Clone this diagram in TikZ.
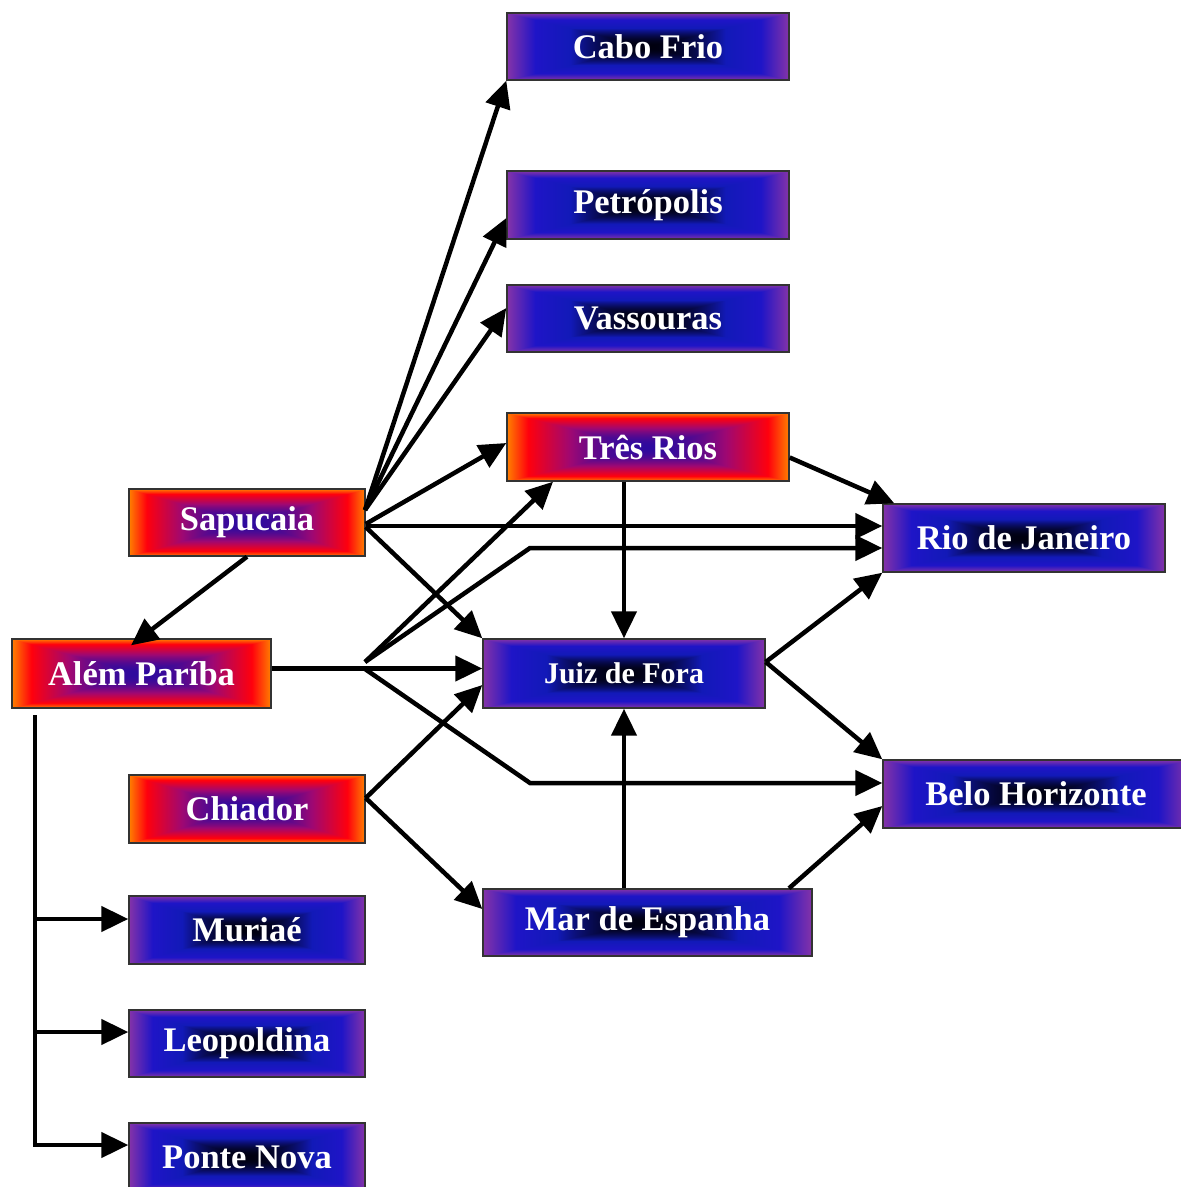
\documentclass[tikz,border=0pt]{standalone}
\usepackage{fontspec}
\setmainfont{Liberation Serif}
\usetikzlibrary{arrows.meta,calc}

\pgfdeclarefunctionalshading{bluerect}{\pgfpointorigin}{\pgfpoint{100bp}{100bp}}{}{
50 sub abs exch 50 sub abs 2 copy lt {exch} if pop 25 div dup 1 gt {pop 1} if
dup 0.55 lt
{ 0.55 div dup mul dup dup 0.07 mul 0.0 add 3 1 roll 0.10 mul 0.0 add exch 0.66 mul 0.06 add }
{ dup 0.8 lt
  { 0.55 sub 0.25 div dup dup 0.05 mul 0.07 add 3 1 roll -0.02 mul 0.10 add exch 0.06 mul 0.72 add }
  { 0.8 sub 0.2 div dup dup 0.40 mul 0.12 add 3 1 roll 0.12 mul 0.08 add exch -0.12 mul 0.78 add }
  ifelse }
ifelse
}

\pgfdeclarefunctionalshading{redrect}{\pgfpointorigin}{\pgfpoint{100bp}{100bp}}{}{
50 sub abs exch 50 sub abs 2 copy lt {exch} if pop 25 div dup 1 gt {pop 1} if
dup 0.55 lt
{ 0.55 div dup mul dup dup 0.44 mul 0.18 add 3 1 roll -0.01 mul 0.04 add exch -0.17 mul 0.62 add }
{ dup 0.85 lt
  { 0.55 sub 0.3 div dup dup 0.38 mul 0.62 add 3 1 roll -0.03 mul 0.03 add exch -0.40 mul 0.45 add }
  { 0.85 sub 0.15 div dup dup 0 mul 1.0 add 3 1 roll 0.5 mul 0.0 add exch -0.05 mul 0.05 add }
  ifelse }
ifelse
}

\tikzset{
  cbox/.style={draw=black!80, line width=1.4pt, shade, inner sep=0pt,
    minimum height=67pt, text=white,
    font=\bfseries\fontsize{34.5}{40}\selectfont},
  bluebox/.style={cbox, shading=bluerect},
  redbox/.style={cbox, shading=redrect},
  conn/.style={line width=4.5pt, draw=black},
  arr/.style={conn, -{Triangle[length=27pt,width=25pt]}},
}

\begin{document}
\begin{tikzpicture}[x=1pt,y=-1pt]
\useasboundingbox (0,0) rectangle (1181,1187);

% nodes
\node[bluebox, minimum width=282pt] (cabo) at (648,46.5) {Cabo Frio};
\node[bluebox, minimum width=282pt, minimum height=68pt] (petro) at (648,205) {Petrópolis};
\node[bluebox, minimum width=282pt] (vass) at (648,318.5) {Vassouras};
\node[redbox, minimum width=282pt, minimum height=68pt] (tres) at (648,447) {Três Rios};
\node[redbox, minimum width=236pt] (sap) at (247,522.5) {Sapucaia};
\node[bluebox, minimum width=282pt, minimum height=68pt] (rio) at (1024,538) {Rio de Janeiro};
\node[redbox, minimum width=259pt, minimum height=69pt] (alem) at (141.5,673.5) {Além Paríba};
\node[bluebox, minimum width=282pt, minimum height=69pt,
      font=\bfseries\fontsize{30}{36}\selectfont] (juiz) at (624,673.5) {Juiz de Fora};
\node[redbox, minimum width=236pt, minimum height=68pt] (chi) at (247,809) {Chiador};
\node[bluebox, minimum width=306pt, minimum height=68pt] (belo) at (1036,794) {Belo Horizonte};
\node[bluebox, minimum width=329pt] (mar) at (647.5,922.5) {Mar de Espanha};
\node[bluebox, minimum width=236pt, minimum height=68pt] (mur) at (247,930) {Muriaé};
\node[bluebox, minimum width=236pt] (leo) at (247,1043.5) {Leopoldina};
\node[bluebox, minimum width=236pt, minimum height=68pt] (ponte) at (247,1157) {Ponte Nova};

% junction coordinates
\coordinate (sapfan) at (365,510);
\coordinate (ja) at (365,662);
\coordinate (jb) at (365,669);
\coordinate (bendA) at (530,548);
\coordinate (bendB) at (530,783);
\coordinate (treetop) at (35,715);
\coordinate (bmur) at ([yshift=11pt]mur.west);
\coordinate (bleo) at ([yshift=11.5pt]leo.west);
\coordinate (bpon) at ([yshift=12pt]ponte.west);

% Sapucaia connectors
\draw[arr] (sapfan) -- (cabo.south west);
\draw[arr] (sapfan) -- ([yshift=-13pt]petro.west);
\draw[arr] (sapfan) -- ([yshift=10.5pt]vass.west);
\draw[arr] ([yshift=-1.5pt]sap.east) -- ([yshift=4pt]tres.west);
\draw[arr] ([yshift=-3.5pt]sap.east) -- ([yshift=12pt]rio.west);
\draw[arr] ([yshift=-4.5pt]sap.east) -- (juiz.north west);
\draw[arr] (sap.south) -- ([xshift=-10.5pt,yshift=-7pt]alem.north);

% Alem Pariba connectors
\draw[arr] ([yshift=5pt]alem.east) -- ([yshift=5pt]juiz.west);
\draw[arr] (ja) -- ([xshift=-95pt]tres.south);
\draw[arr] (ja) -- (bendA) -- ([yshift=-10pt]rio.west);
\draw[arr] (jb) -- (bendB) -- ([yshift=11pt]belo.west);

% Tres Rios
\draw[arr] ([xshift=-24pt]tres.south) -- (juiz.north);
\draw[arr] ([yshift=-10.5pt]tres.east) -- ([xshift=12pt]rio.north west);

% Juiz de Fora
\draw[arr] ([yshift=11.5pt]juiz.east) -- (rio.south west);
\draw[arr] ([yshift=11.5pt]juiz.east) -- (belo.north west);

% Chiador
\draw[arr] ([yshift=11pt]chi.east) -- ([yshift=-11.5pt]juiz.west);
\draw[arr] ([yshift=11pt]chi.east) -- ([yshift=13.5pt]mar.west);

% Mar de Espanha
\draw[arr] ([xshift=-23.5pt]mar.north) -- (juiz.south);
\draw[arr] ([xshift=141.5pt]mar.north) -- ([yshift=-12pt]belo.west);

% tree
\draw[conn] (treetop) -- (treetop |- bpon);
\draw[arr] (treetop |- bmur) -- (bmur);
\draw[arr] (treetop |- bleo) -- (bleo);
\draw[arr] ([xshift=-2.25pt]treetop |- bpon) -- (bpon);
\end{tikzpicture}
\end{document}
